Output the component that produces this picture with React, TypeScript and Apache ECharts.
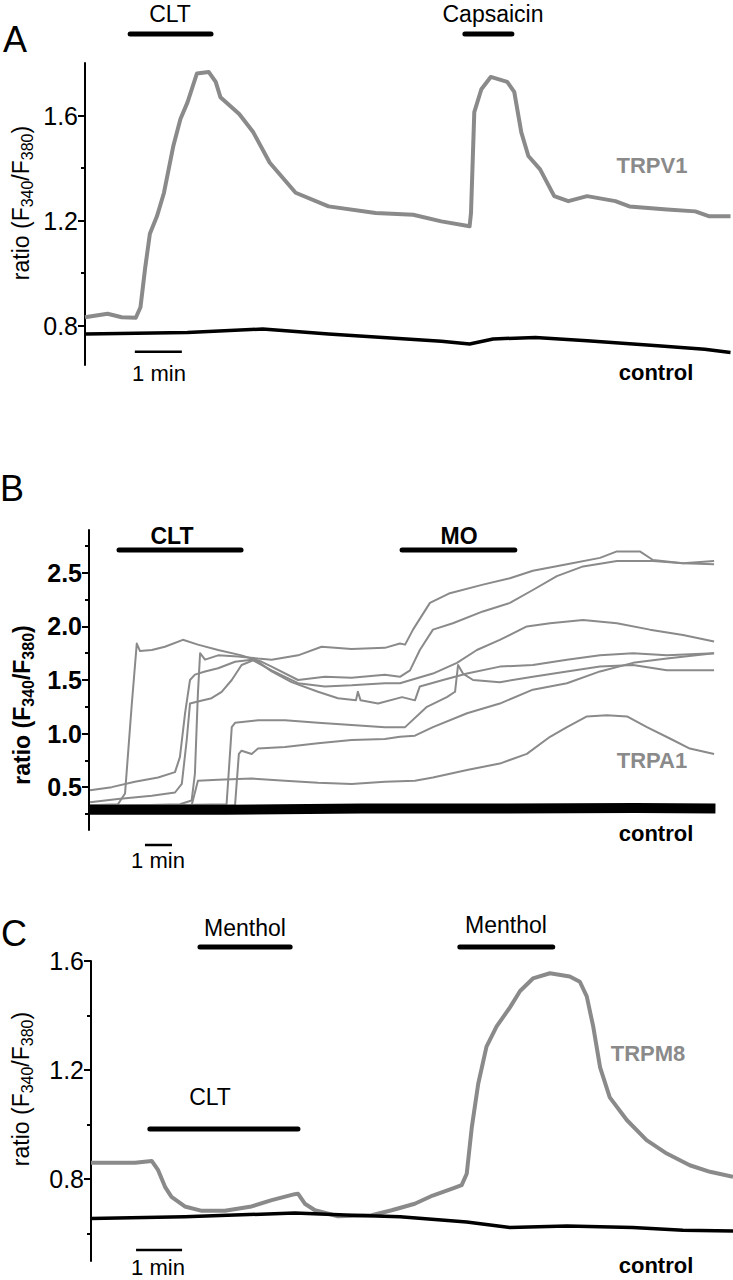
import React, { useEffect, useRef } from "react";
import * as echarts from "echarts";

const FONT = "'Liberation Sans', Arial, Helvetica, sans-serif";
const GRAY = "#8a8a8a";
const BLACK = "#000000";

type P = [number, number];

// ---------------- Panel A (TRPV1), x in minutes ----------------
const aTrpv1: P[] = [
  [0, 0.832], [0.48, 0.845], [0.78, 0.832], [1.08, 0.83], [1.18, 0.87], [1.28, 1.02], [1.38, 1.15],
  [1.53, 1.216], [1.68, 1.306], [1.88, 1.485], [2.03, 1.587], [2.18, 1.65], [2.38, 1.76], [2.63, 1.766],
  [2.78, 1.728], [2.88, 1.67], [3.28, 1.606], [3.58, 1.536], [3.93, 1.42], [4.48, 1.306], [5.18, 1.254],
  [6.18, 1.229], [6.98, 1.222], [7.58, 1.197], [8.18, 1.178], [8.21, 1.229], [8.28, 1.613], [8.43, 1.7],
  [8.63, 1.747], [8.98, 1.728], [9.13, 1.69], [9.28, 1.536], [9.43, 1.446], [9.68, 1.395], [9.98, 1.293],
  [10.28, 1.274], [10.68, 1.293], [11.28, 1.274], [11.58, 1.254], [12.38, 1.242], [12.98, 1.235],
  [13.28, 1.216], [13.73, 1.216],
];
const aControl: P[] = [
  [0, 0.768], [2.18, 0.774], [3.78, 0.787], [5.18, 0.768], [7.58, 0.74], [8.18, 0.73], [8.68, 0.749],
  [9.58, 0.755], [10.68, 0.742], [12.18, 0.723], [13.18, 0.71], [13.73, 0.698],
];
const aStimuli = [
  { name: "CLT", from: 0.96, to: 2.68 },
  { name: "Capsaicin", from: 8.08, to: 9.08 },
];
const aStimLevel = 1.91;
const aScale: P = [1.06, 2.06];
const aScaleLevel = 0.7;
const aLabels = [0.8, 1.2, 1.6];
const aMinor = [1.0, 1.4];

// ---------------- Panel B (TRPA1), x in minutes ----------------
const b1: P[] = [
  [0.04, 0.33], [1.06, 0.34], [1.32, 0.44], [1.56, 1.25], [1.75, 1.84], [1.87, 1.77], [2.3, 1.78], [2.78, 1.81],
  [3.44, 1.875], [3.99, 1.83], [4.73, 1.78], [5.59, 1.73], [6.33, 1.67], [6.69, 1.625], [7.66, 1.5], [8.64, 1.53],
  [9.62, 1.52], [10.84, 1.55], [11.39, 1.53], [11.76, 1.59], [12.12, 1.78], [12.6, 1.97], [13.33, 2.03],
  [14.43, 2.14], [15.42, 2.22], [16.26, 2.34], [17.14, 2.47], [18.1, 2.56], [19.34, 2.61], [20.66, 2.61],
  [21.76, 2.59], [22.9, 2.58],
];
const b2: P[] = [
  [0.04, 0.32], [3.33, 0.34], [3.76, 0.375], [3.88, 0.625], [3.99, 1.375], [4.07, 1.75], [4.25, 1.69], [4.73, 1.73],
  [5.46, 1.72], [6.19, 1.7], [6.69, 1.69], [7.66, 1.73], [8.52, 1.81], [9.62, 1.79], [10.84, 1.8], [11.39, 1.84],
  [11.58, 1.83], [11.87, 1.97], [12.49, 2.22], [13.22, 2.31], [14.43, 2.39], [15.42, 2.45], [16.26, 2.52],
  [17.51, 2.58], [18.72, 2.64], [19.34, 2.7], [20.18, 2.7], [20.66, 2.62], [21.76, 2.59], [22.9, 2.61],
];
const b3: P[] = [
  [0.04, 0.47], [0.83, 0.5], [1.68, 0.55], [2.53, 0.59], [3.15, 0.64], [3.33, 0.78], [3.52, 1.19], [3.7, 1.5],
  [3.88, 1.55], [4.25, 1.58], [4.73, 1.61], [5.35, 1.67], [5.96, 1.69], [6.69, 1.59], [7.66, 1.47], [8.64, 1.44],
  [9.62, 1.45], [10.84, 1.47], [11.39, 1.47], [12.6, 1.56], [13.48, 1.66], [14.21, 1.78], [15.05, 1.875],
  [16.04, 2.0], [16.89, 2.03], [18.1, 2.06], [19.34, 2.03], [20.55, 1.97], [21.76, 1.92], [22.9, 1.86],
];
const b4: P[] = [
  [0.04, 0.36], [1.06, 0.39], [2.3, 0.42], [3.15, 0.45], [3.4, 0.53], [3.58, 0.94], [3.7, 1.28], [3.99, 1.3],
  [4.49, 1.33], [4.86, 1.39], [5.23, 1.5], [5.59, 1.64], [6.08, 1.69], [6.69, 1.58], [7.42, 1.48], [8.39, 1.39],
  [9.12, 1.33], [9.78, 1.31], [9.85, 1.39], [9.95, 1.31], [10.59, 1.28], [11.47, 1.34], [11.94, 1.31],
  [12.12, 1.44], [12.97, 1.5], [13.85, 1.56], [15.05, 1.625], [16.26, 1.64], [17.51, 1.69], [18.72, 1.73],
  [19.93, 1.75], [21.17, 1.73], [22.9, 1.75],
];
const b5: P[] = [
  [0.04, 0.32], [5.04, 0.34], [5.23, 1.06], [5.35, 1.1], [6.19, 1.125], [7.18, 1.125], [8.39, 1.1], [9.62, 1.08],
  [10.84, 1.06], [11.58, 1.06], [12.38, 1.25], [13.11, 1.34], [13.41, 1.39], [13.52, 1.64], [13.7, 1.56],
  [14.07, 1.5], [15.05, 1.48], [16.26, 1.53], [17.51, 1.58], [18.72, 1.625], [19.93, 1.64], [21.17, 1.59],
  [22.9, 1.59],
];
const b6: P[] = [
  [0.04, 0.31], [5.35, 0.33], [5.49, 0.81], [5.59, 0.84], [5.96, 0.81], [6.19, 0.86], [7.18, 0.875], [8.39, 0.91],
  [9.62, 0.94], [10.84, 0.95], [11.39, 0.97], [11.94, 0.98], [12.6, 1.06], [13.85, 1.19], [15.05, 1.28],
  [16.26, 1.41], [17.51, 1.47], [18.72, 1.58], [19.93, 1.66], [21.17, 1.7], [22.9, 1.75],
];
const b7: P[] = [
  [0.04, 0.33], [3.76, 0.33], [3.99, 0.56], [4.73, 0.57], [5.96, 0.58], [7.18, 0.56], [8.39, 0.54], [9.62, 0.53],
  [10.84, 0.55], [11.94, 0.56], [12.6, 0.59], [13.85, 0.66], [15.05, 0.72], [16.04, 0.81], [16.89, 0.97],
  [17.51, 1.06], [18.24, 1.16], [18.97, 1.17], [19.71, 1.16], [20.44, 1.06], [21.39, 0.94], [22.01, 0.86],
  [22.9, 0.81],
];
const bTraces = [b1, b2, b3, b4, b5, b6, b7];
const bControl: P[] = [[0, 0.29], [5, 0.29], [10, 0.3], [15, 0.3], [20, 0.305], [22.95, 0.3]];
const bStimuli = [
  { name: "CLT", from: 1.1, to: 5.57 },
  { name: "MO", from: 11.47, to: 15.6 },
];
const bStimLevel = 2.713;
const bScale: P = [2.05, 3.04];
const bScaleLevel = -0.04;
const bLabels = [0.5, 1.0, 1.5, 2.0, 2.5];
const bMinor = [0.25, 0.75, 1.25, 1.75, 2.25, 2.75];

// ---------------- Panel C (TRPM8), x in minutes ----------------
const cTrpm8: P[] = [
  [0, 0.86], [0.96, 0.86], [1.32, 0.867], [1.46, 0.833], [1.61, 0.772], [1.75, 0.735], [2.04, 0.7], [2.41, 0.684],
  [2.91, 0.684], [3.49, 0.7], [3.93, 0.723], [4.43, 0.745], [4.5, 0.747], [4.65, 0.71], [4.87, 0.686],
  [5.37, 0.664], [6.1, 0.668], [6.54, 0.686], [7.04, 0.71], [7.43, 0.74], [7.87, 0.766], [8.06, 0.778],
  [8.17, 0.82], [8.28, 0.99], [8.42, 1.15], [8.6, 1.286], [8.82, 1.36], [9.11, 1.43], [9.33, 1.49],
  [9.61, 1.536], [9.98, 1.555], [10.41, 1.543], [10.63, 1.524], [10.78, 1.47], [10.92, 1.36], [11.07, 1.21],
  [11.28, 1.1], [11.65, 1.017], [12.08, 0.943], [12.52, 0.894], [13.02, 0.851], [13.46, 0.827], [13.96, 0.809],
];
const cControl: P[] = [
  [0, 0.656], [2.04, 0.662], [4.43, 0.676], [5.67, 0.668], [6.72, 0.662], [8.17, 0.643], [9.11, 0.623],
  [10.35, 0.628], [11.78, 0.623], [12.87, 0.613], [13.96, 0.61],
];
const cStimuli = [
  { name: "Menthol", from: 2.37, to: 4.33, level: 1.651 },
  { name: "Menthol", from: 8.02, to: 10.04, level: 1.651 },
  { name: "CLT", from: 1.28, to: 4.5, level: 0.984 },
];
const cScale: P = [0.98, 1.98];
const cScaleLevel = 0.54;
const cLabels = [0.8, 1.2, 1.6];
const cMinor = [0.6, 1.0, 1.4];

function line(data: P[], idx: number, color: string, width: number, extra: any = {}) {
  return {
    type: "line",
    xAxisIndex: idx,
    yAxisIndex: idx * 2,
    data,
    symbol: "none",
    showSymbol: false,
    silent: true,
    lineStyle: { color, width, join: "round" },
    ...extra,
  };
}

function bar(from: number, to: number, level: number, idx: number, width: number, cap: string) {
  return line(
    [
      [from, level],
      [to, level],
    ],
    idx,
    BLACK,
    width,
    { clip: false, lineStyle: { color: BLACK, width, cap }, z: 5 }
  );
}

function yAxes(grid: number, min: number, max: number, labels: number[], minor: number[], fontSize: number, bold: boolean) {
  return [
    {
      type: "value",
      gridIndex: grid,
      position: "left",
      min,
      max,
      axisLine: { show: true, onZero: false, lineStyle: { color: BLACK, width: 2 } },
      axisTick: { show: true, length: 7, lineStyle: { color: BLACK, width: 2 }, customValues: labels },
      axisLabel: {
        show: true,
        customValues: labels,
        formatter: (v: number) => v.toFixed(1),
        fontSize,
        fontWeight: bold ? "bold" : "normal",
        fontFamily: FONT,
        color: BLACK,
        margin: 7,
      },
      splitLine: { show: false },
    },
    {
      type: "value",
      gridIndex: grid,
      position: "left",
      offset: 0,
      min,
      max,
      axisLine: { show: false },
      axisTick: { show: true, length: 4, lineStyle: { color: BLACK, width: 2 }, customValues: minor },
      axisLabel: { show: false, customValues: minor },
      splitLine: { show: false },
    },
  ];
}

function txt(text: string, x: number, y: number, size: number, opts: any = {}) {
  return {
    type: "text",
    x,
    y,
    silent: true,
    style: {
      text,
      fontSize: size,
      fontFamily: FONT,
      fontWeight: opts.bold ? "bold" : "normal",
      fill: opts.color || BLACK,
      align: "center",
      verticalAlign: "middle",
    },
  };
}

function ratio(x: number, y: number, size: number, bold: boolean) {
  const w = bold ? "bold" : "normal";
  return {
    type: "text",
    x,
    y,
    rotation: Math.PI / 2,
    silent: true,
    style: {
      text: "{n|ratio (F}{s|340}{n|/F}{s|380}{n|)}",
      align: "center",
      verticalAlign: "middle",
      fill: BLACK,
      rich: {
        n: { fontSize: size, fontFamily: FONT, fontWeight: w, fill: BLACK, lineHeight: size + 6 },
        s: {
          fontSize: Math.round(size * 0.68),
          fontFamily: FONT,
          fontWeight: w,
          fill: BLACK,
          lineHeight: Math.round(size * 0.68),
          verticalAlign: "bottom",
        },
      },
    },
  };
}

export default function App() {
  const ref = useRef<HTMLDivElement>(null);
  useEffect(() => {
    document.body.style.margin = "0";
    if (!ref.current) return;
    const chart = echarts.init(ref.current, undefined, { renderer: "svg" });

    const series: any[] = [];
    // Panel A
    series.push(line(aTrpv1, 0, GRAY, 4));
    series.push(line(aControl, 0, BLACK, 3.5));
    aStimuli.forEach((s) => series.push(bar(s.from, s.to, aStimLevel, 0, 5, "round")));
    series.push(bar(aScale[0], aScale[1], aScaleLevel, 0, 2.5, "butt"));
    // Panel B
    bTraces.forEach((t) => series.push(line(t, 1, GRAY, 2)));
    series.push(line(bControl, 1, BLACK, 10));
    bStimuli.forEach((s) => series.push(bar(s.from, s.to, bStimLevel, 1, 5, "round")));
    series.push(bar(bScale[0], bScale[1], bScaleLevel, 1, 2.5, "butt"));
    // Panel C
    series.push(line(cTrpm8, 2, GRAY, 4));
    series.push(line(cControl, 2, BLACK, 3.5));
    cStimuli.forEach((s) => series.push(bar(s.from, s.to, s.level, 2, 5, "round")));
    series.push(bar(cScale[0], cScale[1], cScaleLevel, 2, 2.5, "butt"));

    const option: any = {
      animation: false,
      backgroundColor: "#ffffff",
      grid: [
        { left: 85, top: 63, width: 646, height: 302 },
        { left: 89, top: 530, width: 627, height: 300 },
        { left: 91, top: 961, width: 642, height: 300 },
      ],
      xAxis: [
        { type: "value", gridIndex: 0, min: 0, max: 13.74, show: false },
        { type: "value", gridIndex: 1, min: 0, max: 22.97, show: false },
        { type: "value", gridIndex: 2, min: 0, max: 13.96, show: false },
      ],
      yAxis: [
        ...yAxes(0, 0.65, 1.8, aLabels, aMinor, 25, false),
        ...yAxes(1, 0.1, 2.9, bLabels, bMinor, 25, true),
        ...yAxes(2, 0.5, 1.6, cLabels, cMinor, 25, false),
      ],
      series,
      graphic: [
        txt("A", 15, 39, 36),
        txt(aStimuli[0].name, 170, 14, 23),
        txt(aStimuli[1].name, 493, 14, 23),
        txt("TRPV1", 652, 165, 22, { bold: true, color: GRAY }),
        txt("control", 656, 372, 22, { bold: true }),
        txt("1 min", 159, 373, 22),
        ratio(21, 203, 23, false),

        txt("B", 12, 488, 36),
        txt(bStimuli[0].name, 172, 536, 23, { bold: true }),
        txt(bStimuli[1].name, 459, 536, 23, { bold: true }),
        txt("TRPA1", 652, 760, 22, { bold: true, color: GRAY }),
        txt("control", 656, 833, 22, { bold: true }),
        txt("1 min", 158, 860, 22),
        ratio(22, 705, 23, true),

        txt("C", 14, 933, 36),
        txt(cStimuli[0].name, 245, 928, 23),
        txt(cStimuli[1].name, 506, 925, 23),
        txt(cStimuli[2].name, 210, 1097, 23),
        txt("TRPM8", 648, 1053, 22, { bold: true, color: GRAY }),
        txt("control", 656, 1265, 22, { bold: true }),
        txt("1 min", 158, 1267, 22),
        ratio(21, 1089, 23, false),
      ],
    };
    chart.setOption(option);
    return () => chart.dispose();
  }, []);
  return <div ref={ref} style={{ width: 733, height: 1280 }} />;
}
